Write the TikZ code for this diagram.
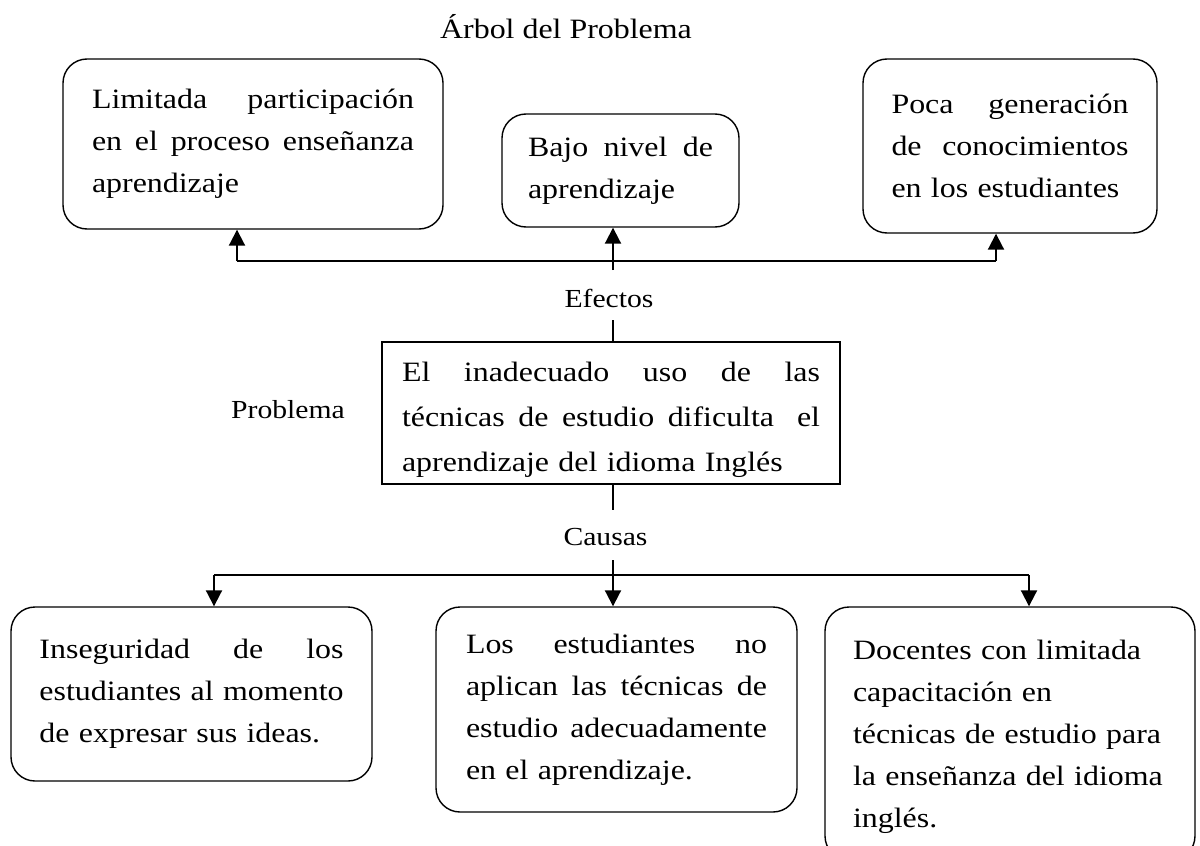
\documentclass[tikz,border=0pt]{standalone}
\usepackage{fontspec}
\setmainfont[FakeStretch=1.14]{Liberation Serif}
\usetikzlibrary{arrows.meta}
\newcommand\jline[2]{\makebox[#1][s]{#2}}
\begin{document}
\begin{tikzpicture}[x=0.5pt,y=-0.5pt,
  effbox/.style={draw, line width=0.7pt, rounded corners=12pt, inner sep=0pt, align=left,
    font=\fontsize{14}{21}\selectfont},
  probbox/.style={draw, line width=0.7pt, inner sep=0pt, align=left,
    font=\fontsize{14}{22.5}\selectfont},
  lbl/.style={font=\fontsize{13}{15}\selectfont, inner sep=0pt, anchor=base},
  ttl/.style={font=\fontsize{14}{16}\selectfont, inner sep=0pt, anchor=base},
  conn/.style={line width=1pt},
  arr/.style={conn, -{Triangle[width=8pt,length=8pt]}}]
\useasboundingbox (0,0) rectangle (1200,846);
\fill[white] (0,0) rectangle (1200,846);

% title and labels
\node[ttl] (title) at (566,39) {Árbol del Problema};
\node[lbl] (ef) at (609,307) {Efectos};
\node[lbl] (pr) at (288,418) {Problema};
\node[lbl] (ca) at (605.5,545) {Causas};

% effects
\node[effbox, minimum width=190pt, minimum height=85pt, text width=161pt] (L) at (253,144)
  {\jline{161pt}{Limitada \hfill participación}\\
   \jline{161pt}{en \hfill el \hfill proceso \hfill enseñanza}\\aprendizaje};
\node[effbox, minimum width=118.5pt, minimum height=56.5pt, text width=92.5pt] (M) at (620.5,170.5)
  {\jline{92.5pt}{Bajo \hfill nivel \hfill de}\\aprendizaje};
\node[effbox, minimum width=147pt, minimum height=87pt, text width=118.5pt] (R) at (1010,146)
  {\jline{118.5pt}{Poca \hfill generación}\\
   \jline{118.5pt}{de \hfill conocimientos}\\en los estudiantes};

% problem
\node[probbox, minimum width=229pt, minimum height=71pt, text width=209pt] (P) at (611,413)
  {\rule{0pt}{16.6pt}\jline{209pt}{El \hfill inadecuado \hfill uso \hfill de \hfill las}\\
   \jline{209pt}{técnicas \hfill de \hfill estudio \hfill dificulta \ \hfill el}\\
   aprendizaje del idioma Inglés};

% causes
\node[effbox, minimum width=180.5pt, minimum height=87pt, text width=152pt] (BL) at (191.5,694)
  {\jline{152pt}{Inseguridad \hfill de \hfill los}\\
   \jline{152pt}{estudiantes \hfill al \hfill momento}\\de expresar sus ideas.};
\node[effbox, minimum width=180.5pt, minimum height=102.5pt, text width=150.5pt] (BM) at (616.5,709.5)
  {\jline{150.5pt}{Los \hfill estudiantes \hfill no}\\
   \jline{150.5pt}{aplican \hfill las \hfill técnicas \hfill de}\\
   \jline{150.5pt}{estudio \hfill adecuadamente}\\en el aprendizaje.};
\node[effbox, minimum width=185pt, minimum height=126.5pt, text width=157pt] (BR) at (1010,733.5)
  {\rule{0pt}{13pt}Docentes con limitada\\capacitación en\\técnicas de estudio para\\la enseñanza del idioma\\inglés.};

% connectors: effects
\coordinate (tl) at (237,261);
\coordinate (tr) at (996,261);
\coordinate (tm) at (613,270);
\draw[conn] (tl) -- (tr);
\draw[arr] (tl) -- (tl |- L.south);
\draw[arr] (tr) -- (tr |- R.south);
\draw[arr] (tm) -- (tm |- M.south);
\coordinate (pa) at (613,320);
\draw[conn] (pa) -- (pa |- P.north);

% connectors: causes
\coordinate (pb) at (613,510);
\draw[conn] (pb |- P.south) -- (pb);
\coordinate (bm) at (613,560);
\coordinate (bl) at (214,575);
\coordinate (br) at (1029,575);
\draw[conn] (bl) -- (br);
\draw[arr] (bm) -- (bm |- BM.north);
\draw[arr] (bl) -- (bl |- BL.north);
\draw[arr] (br) -- (br |- BR.north);
\end{tikzpicture}
\end{document}
